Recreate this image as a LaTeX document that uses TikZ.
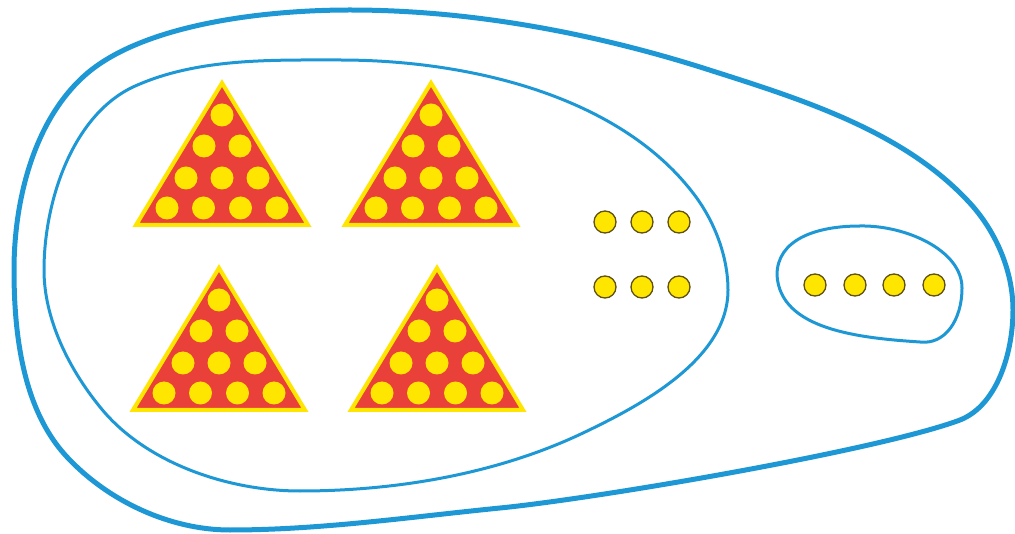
\documentclass[tikz,border=0pt]{standalone}
\usetikzlibrary{calc}
\definecolor{setblue}{RGB}{30,152,212}
\definecolor{trired}{RGB}{234,64,58}
\definecolor{triyel}{RGB}{255,230,0}
\definecolor{dotedge}{RGB}{95,80,20}
\tikzset{
  outerset/.style={draw=setblue, line width=5pt},
  innerset/.style={draw=setblue, line width=3pt},
  tri/.style={fill=trired, draw=triyel, line width=4pt, line join=miter},
  tridot/.style={fill=triyel, draw=none},
  unitdot/.style={circle, fill=triyel, draw=dotedge, line width=1.3pt, minimum size=22pt, inner sep=0pt},
  pics/dottri/.style={code={
    \path[tri] (-86,0) -- (0,-142) -- (86,0) -- cycle;
    \foreach \dx/\dy in {-55/-17,-18.5/-17,18.5/-17,55/-17,-36/-47,0/-47,36/-47,-18/-79,18/-79,0/-110}
      \fill[tridot] (\dx,\dy) circle[radius=11.5];
  }}
}
\begin{document}
\begin{tikzpicture}[x=1pt,y=-1pt]
\useasboundingbox (0,0) rectangle (1015,534);
% outer set
\draw[outerset] (350,10)
  .. controls (468,10) and (588,32) .. (700,67)
  .. controls (794,97) and (899,128) .. (967,200)
  .. controls (995,229) and (1013,270) .. (1013,310)
  .. controls (1013,351) and (998,405) .. (960,420)
  .. controls (880,450) and (600,498) .. (500,508)
  .. controls (410,517) and (320,530) .. (230,530)
  .. controls (170,530) and (108,501) .. (67,457)
  .. controls (23,410) and (14,335) .. (14,270)
  .. controls (14,202) and (33,123) .. (83,77)
  .. controls (138,26) and (258,10) .. cycle;
% inner large set
\draw[innerset] (340,60)
  .. controls (465,60) and (617,94) .. (693,193)
  .. controls (714,220) and (728,256) .. (728,290)
  .. controls (728,358) and (644,404) .. (583,433)
  .. controls (497,474) and (396,491) .. (300,491)
  .. controls (228,491) and (145,463) .. (100,407)
  .. controls (69,369) and (44,319) .. (44,270)
  .. controls (44,202) and (72,116) .. (133,87)
  .. controls (196,58) and (270,60) .. cycle;
% small set
\draw[innerset] (860,226)
  .. controls (905,225) and (962,250) .. (962,288)
  .. controls (962,320) and (945,345) .. (920,342)
  .. controls (860,338) and (780,330) .. (777,275)
  .. controls (777,240) and (815,226) .. cycle;
% triangles
\pic (t1) at (222,225) {dottri};
\pic (t2) at (431,225) {dottri};
\pic (t3) at (219,410) {dottri};
\pic (t4) at (437,410) {dottri};
% unit dots
\node[unitdot] (a1) at (605,222) {};
\node[unitdot] (a2) at (642,222) {};
\node[unitdot] (a3) at (679,222) {};
\node[unitdot] (a4) at (605,287) {};
\node[unitdot] (a5) at (642,287) {};
\node[unitdot] (a6) at (679,287) {};
\node[unitdot] (b1) at (815,285) {};
\node[unitdot] (b2) at (855,285) {};
\node[unitdot] (b3) at (894,285) {};
\node[unitdot] (b4) at (934,285) {};
\end{tikzpicture}
\end{document}
